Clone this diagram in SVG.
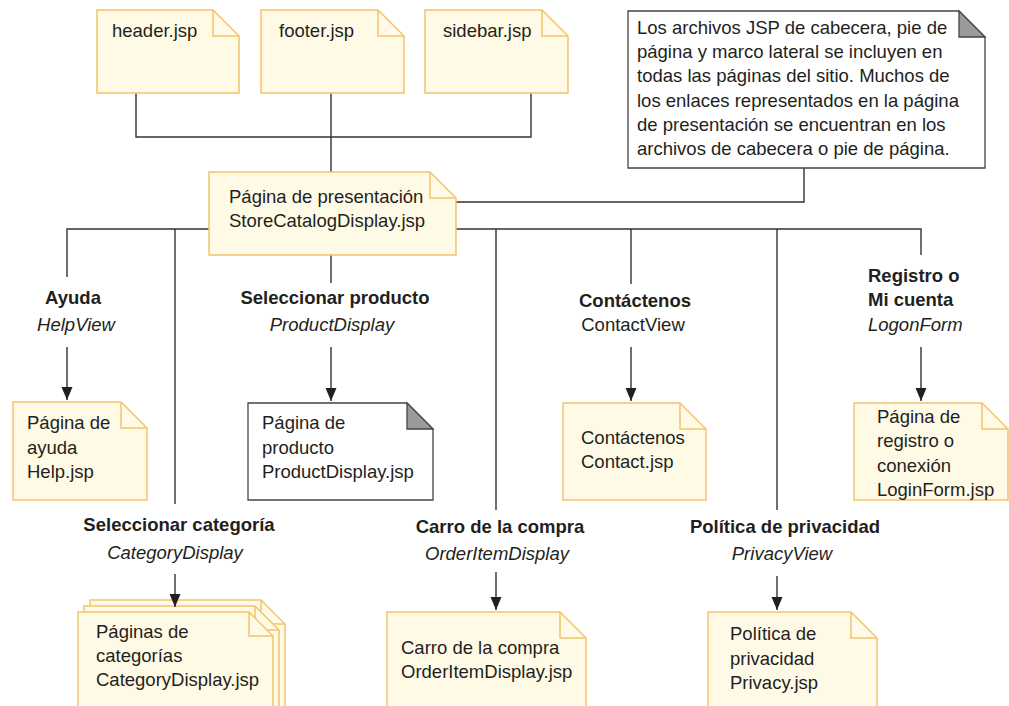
<svg xmlns="http://www.w3.org/2000/svg" width="1009" height="706" viewBox="0 0 1009 706">
<defs>
<style>
.y{fill:#fffae6;stroke:#f2c36b;stroke-width:1.5}
.yf{fill:none;stroke:#f2c36b;stroke-width:1.5}
.w{fill:#ffffff;stroke:#444;stroke-width:1.3}
.g{fill:#9a9a9a;stroke:#444;stroke-width:1.3}
.t{font-family:"Liberation Sans",Arial,sans-serif;font-size:18.5px;fill:#231f20}
.b{font-weight:bold}
.i{font-style:italic}
.m{text-anchor:middle}
.c{fill:none;stroke:#333;stroke-width:1.4}
</style>
<marker id="arr" markerUnits="userSpaceOnUse" markerWidth="14" markerHeight="12" refX="13" refY="6" orient="auto" viewBox="0 0 14 12">
<path d="M0,0.5 L13,6 L0,11.5 Z" fill="#231f20"/>
</marker>
</defs>
<g id="connectors" class="c">
<polyline points="136,93 136,137 531,137 531,93"/>
<line x1="331" y1="93" x2="331" y2="172"/>
<polyline points="804,168 804,202 456,202"/>
<polyline points="67,277 67,229 921,229 921,255"/>
<line x1="175" y1="229" x2="175" y2="504"/>
<line x1="331" y1="255" x2="331" y2="283"/>
<line x1="496" y1="229" x2="496" y2="510"/>
<line x1="631" y1="229" x2="631" y2="284"/>
<line x1="777" y1="229" x2="777" y2="510"/>
<path d="M67,347 V400" marker-end="url(#arr)"/>
<path d="M331,347 V401" marker-end="url(#arr)"/>
<path d="M631,347 V401" marker-end="url(#arr)"/>
<path d="M921,347 V401" marker-end="url(#arr)"/>
<path d="M496,572 V610" marker-end="url(#arr)"/>
<path d="M777,576 V610" marker-end="url(#arr)"/>
</g>
<g id="header">
<path class="y" d="M97,10 H213 L239,36 V93 H97 Z"/><path class="yf" d="M213,10 V36 H239"/>
<text class="t" x="112" y="37">header.jsp</text>
</g>
<g id="footer">
<path class="y" d="M261,10 H378 L404,36 V93 H261 Z"/><path class="yf" d="M378,10 V36 H404"/>
<text class="t" x="279" y="37">footer.jsp</text>
</g>
<g id="sidebar">
<path class="y" d="M425,10 H542 L568,36 V93 H425 Z"/><path class="yf" d="M542,10 V36 H568"/>
<text class="t" x="443" y="37">sidebar.jsp</text>
</g>
<g id="note">
<path class="w" d="M628,11 H959 L985,37 V168 H628 Z"/><path class="g" d="M959,11 V37 H985 Z"/>
<text class="t" x="637" y="34">Los archivos JSP de cabecera, pie de</text>
<text class="t" x="637" y="58.2">página y marco lateral se incluyen en</text>
<text class="t" x="637" y="82.4">todas las páginas del sitio. Muchos de</text>
<text class="t" x="637" y="106.6">los enlaces representados en la página</text>
<text class="t" x="637" y="130.8">de presentación se encuentran en los</text>
<text class="t" x="637" y="155">archivos de cabecera o pie de página.</text>
</g>
<g id="presentacion">
<path class="y" d="M209,172 H430 L456,198 V255 H209 Z"/><path class="yf" d="M430,172 V198 H456"/>
<text class="t" x="229" y="203">Página de presentación</text>
<text class="t" x="229" y="227">StoreCatalogDisplay.jsp</text>
</g>
<g id="lbl-ayuda">
<text class="t b m" x="73" y="304">Ayuda</text>
<text class="t i m" x="76" y="331">HelpView</text>
</g>
<g id="lbl-producto">
<text class="t b m" x="335" y="304">Seleccionar producto</text>
<text class="t i m" x="332" y="331">ProductDisplay</text>
</g>
<g id="lbl-contacto">
<text class="t b m" x="635" y="307">Contáctenos</text>
<text class="t m" x="633" y="331">ContactView</text>
</g>
<g id="lbl-registro">
<text class="t b" x="868" y="282">Registro o</text>
<text class="t b" x="868" y="306">Mi cuenta</text>
<text class="t i" x="868" y="331">LogonForm</text>
</g>
<g id="lbl-categoria">
<text class="t b m" x="179" y="531">Seleccionar categoría</text>
<text class="t i m" x="175" y="559">CategoryDisplay</text>
</g>
<g id="lbl-carro">
<text class="t b m" x="500" y="533">Carro de la compra</text>
<text class="t i m" x="497" y="560">OrderItemDisplay</text>
</g>
<g id="lbl-privacidad">
<text class="t b m" x="785" y="533">Política de privacidad</text>
<text class="t i m" x="782" y="560">PrivacyView</text>
</g>
<g id="help">
<path class="y" d="M13,402 H121 L147,428 V500 H13 Z"/><path class="yf" d="M121,402 V428 H147"/>
<text class="t" x="27" y="429">Página de</text>
<text class="t" x="27" y="454">ayuda</text>
<text class="t" x="27" y="478">Help.jsp</text>
</g>
<g id="product">
<path class="w" d="M248,403 H407 L433,429 V500 H248 Z"/><path class="g" d="M407,403 V429 H433 Z"/>
<text class="t" x="262" y="429">Página de</text>
<text class="t" x="262" y="454">producto</text>
<text class="t" x="262" y="478">ProductDisplay.jsp</text>
</g>
<g id="contact">
<path class="y" d="M563,403 H680 L706,429 V500 H563 Z"/><path class="yf" d="M680,403 V429 H706"/>
<text class="t" x="581" y="444">Contáctenos</text>
<text class="t" x="581" y="468">Contact.jsp</text>
</g>
<g id="login">
<path class="y" d="M854,403 H982 L1008,429 V500 H854 Z"/><path class="yf" d="M982,403 V429 H1008"/>
<text class="t" x="877" y="423">Página de</text>
<text class="t" x="877" y="447">registro o</text>
<text class="t" x="877" y="472">conexión</text>
<text class="t" x="877" y="496">LoginForm.jsp</text>
</g>
<g id="category">
<path class="y" d="M90,600 H261 L285,624 V720 H90 Z"/><path class="yf" d="M261,600 V624 H285"/>
<path class="y" d="M84,606 H255 L279,630 V720 H84 Z"/><path class="yf" d="M255,606 V630 H279"/>
<path class="y" d="M78,612 H249 L273,636 V720 H78 Z"/><path class="yf" d="M249,612 V636 H273"/>
<text class="t" x="96" y="638">Páginas de</text>
<text class="t" x="96" y="662">categorías</text>
<text class="t" x="96" y="686">CategoryDisplay.jsp</text>
</g>
<path class="c" d="M175,574 V607" marker-end="url(#arr)"/>
<g id="cart">
<path class="y" d="M387,612 H560 L586,638 V720 H387 Z"/><path class="yf" d="M560,612 V638 H586"/>
<text class="t" x="401" y="654">Carro de la compra</text>
<text class="t" x="401" y="678">OrderItemDisplay.jsp</text>
</g>
<g id="privacy">
<path class="y" d="M708,612 H851 L877,638 V720 H708 Z"/><path class="yf" d="M851,612 V638 H877"/>
<text class="t" x="730" y="640">Política de</text>
<text class="t" x="730" y="665">privacidad</text>
<text class="t" x="730" y="689">Privacy.jsp</text>
</g>
</svg>
